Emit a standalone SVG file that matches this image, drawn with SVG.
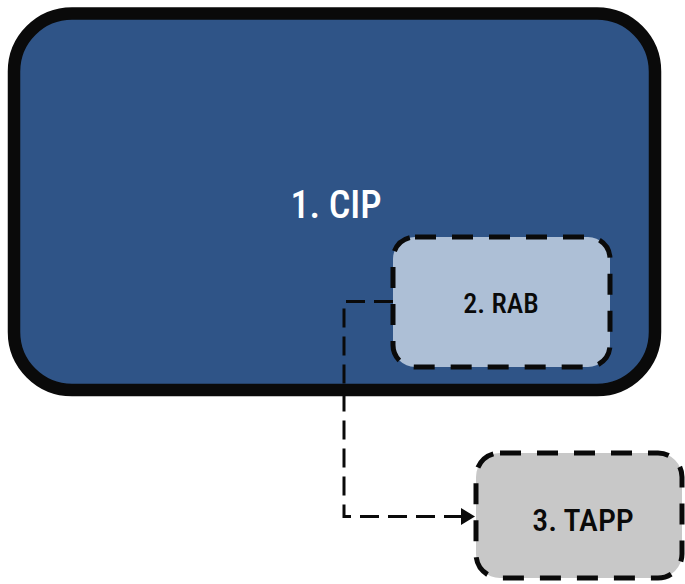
<svg xmlns="http://www.w3.org/2000/svg" width="685" height="584" viewBox="0 0 685 584">
<style>
.lbl{font-family:"Liberation Sans Narrow","Roboto Condensed","Liberation Sans",Arial,sans-serif;font-weight:500;text-anchor:middle;font-stretch:condensed}
.dash{stroke:#0a0a0a;stroke-width:5;stroke-dasharray:21 16}
.conn{fill:none;stroke:#0a0a0a;stroke-width:3;stroke-dasharray:19 9}
</style>
<rect width="685" height="584" fill="#ffffff"/>
<g id="cip">
<rect x="14" y="13.5" width="641" height="376.5" rx="58" fill="#2f5487" stroke="#0a0a0a" stroke-width="12.5"/>
<text class="lbl" x="336" y="218" font-size="38" fill="#ffffff">1. CIP</text>
</g>
<g id="rab">
<rect x="393" y="237" width="217" height="130" rx="22" fill="#adbfd6" class="dash"/>
<text class="lbl" x="501" y="313" font-size="28" fill="#0a0a0a">2. RAB</text>
</g>
<g id="tapp">
<rect x="476" y="453" width="206" height="125" rx="24" fill="#c8c8c8" class="dash"/>
<text class="lbl" x="583" y="531" font-size="32" fill="#0a0a0a">3. TAPP</text>
</g>
<g id="connectors">
<path class="conn" d="M393,301.5 H344 V516.5 H461"/>
<path d="M461,508 L475,516.5 L461,525 z" fill="#0a0a0a"/>
</g>
</svg>
